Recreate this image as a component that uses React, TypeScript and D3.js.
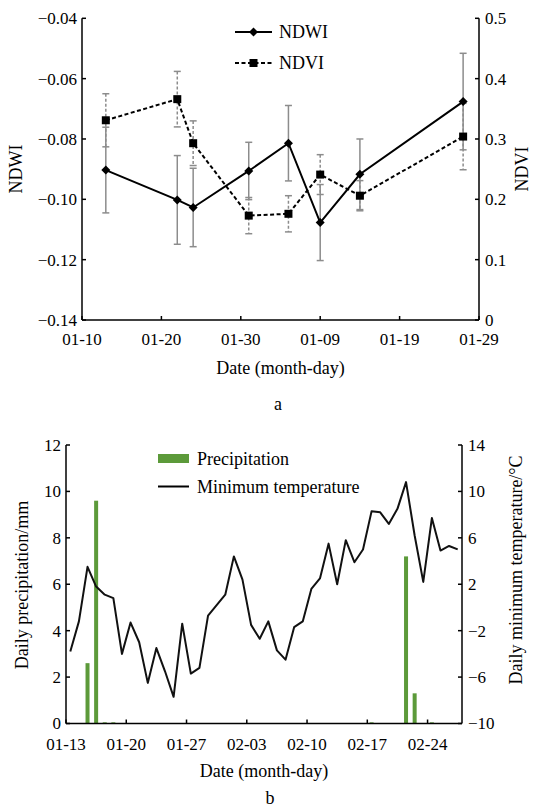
import React from "react";
import * as d3 from "d3";

// ---------- Panel a data ----------
const obsDays = [3, 12, 14, 21, 26, 30, 35, 48]; // days since 01-10
const ndwiMean = [-0.0903, -0.1002, -0.1027, -0.0906, -0.0814, -0.1077, -0.0917, -0.0676];
const ndwiSd = [0.0142, 0.0147, 0.013, 0.0095, 0.0125, 0.0126, 0.0117, 0.016];
const ndviMean = [0.331, 0.366, 0.293, 0.173, 0.176, 0.241, 0.206, 0.304];
const ndviSd = [0.044, 0.046, 0.037, 0.03, 0.03, 0.033, 0.025, 0.055];
const topXTicks = [0, 10, 20, 30, 40, 50];
const topXLabels = ["01-10", "01-20", "01-30", "01-09", "01-19", "01-29"];
const ndwiTicks = [-0.04, -0.06, -0.08, -0.1, -0.12, -0.14];
const ndwiTickLabels = ["−0.04", "−0.06", "−0.08", "−0.10", "−0.12", "−0.14"];
const ndviTicks = [0, 0.1, 0.2, 0.3, 0.4, 0.5];
const ndviTickLabels = ["0", "0.1", "0.2", "0.3", "0.4", "0.5"];

// ---------- Panel b data ----------
const precipDays = [2, 3, 4, 5, 35, 39, 40, 42]; // days since 01-13
const precipValues = [2.6, 9.6, 0.05, 0.05, 0.05, 7.2, 1.3, 0.05];
const minTemp = [
  -3.8, -1.2, 3.5, 1.8, 1.1, 0.8, -4.0, -1.3, -3.0, -6.5,
  -3.5, -5.5, -7.7, -1.4, -5.7, -5.2, -0.7, 0.2, 1.1, 4.4,
  2.4, -1.5, -2.7, -1.2, -3.7, -4.5, -1.7, -1.2, 1.6, 2.5,
  5.5, 2.0, 5.8, 3.9, 5.0, 8.3, 8.2, 7.2, 8.5, 10.8,
  6.2, 2.2, 7.7, 4.9, 5.3, 5.0,
];
const botXTicks = [0, 7, 14, 21, 28, 35, 42];
const botXLabels = ["01-13", "01-20", "01-27", "02-03", "02-10", "02-17", "02-24"];
const precipTicks = [0, 2, 4, 6, 8, 10, 12];
const tempTicks = [-10, -6, -2, 2, 6, 10, 14];
const tempTickLabels = ["−10", "−6", "−2", "2", "6", "10", "14"];

const FONT = "'Liberation Serif', 'Times New Roman', serif";
const FS = 17;
const FT = 18;
const GREEN = "#5c9a3a";
const ERR = "#8c8c8c";

export default function App() {
  // Panel a scales
  const xA = d3.scaleLinear().domain([0, 50]).range([82, 479]);
  const yW = d3.scaleLinear().domain([-0.14, -0.04]).range([320, 18.3]);
  const yV = d3.scaleLinear().domain([0, 0.5]).range([320, 18.3]);
  const ndwiLine = d3.line<number>().x((_, i) => xA(obsDays[i])).y((d) => yW(d));
  const ndviLine = d3.line<number>().x((_, i) => xA(obsDays[i])).y((d) => yV(d));

  // Panel b scales
  const xB = d3.scaleLinear().domain([0, 46]).range([66, 462]);
  const yP = d3.scaleLinear().domain([0, 12]).range([723.5, 445]);
  const yT = d3.scaleLinear().domain([-10, 14]).range([723.5, 445]);
  const tempLine = d3.line<number>().x((_, i) => xB(i + 0.5)).y((d) => yT(d));

  const diamond = (cx: number, cy: number, r: number) =>
    `M${cx},${cy - r}L${cx + r},${cy}L${cx},${cy + r}L${cx - r},${cy}Z`;

  const [aL, aR] = xA.range();
  const aB = yW(-0.14), aT = yW(-0.04);
  const [bL, bR] = xB.range();
  const bB = yP(0), bT = yP(12);
  const tick = 4;

  return (
    <svg width={534} height={809} style={{ position: "absolute", left: 0, top: 0, background: "#fff" }} fontFamily={FONT} fontSize={FS}>
      {/* ================= Panel a ================= */}
      {ndwiMean.map((m, i) => {
        const x = xA(obsDays[i]);
        const y1 = yW(m + ndwiSd[i]);
        const y2 = yW(m - ndwiSd[i]);
        return (
          <g key={"ew" + i} stroke={ERR} strokeWidth={1.5}>
            <line x1={x} x2={x} y1={y1} y2={y2} />
            <line x1={x - 3.5} x2={x + 3.5} y1={y1} y2={y1} />
            <line x1={x - 3.5} x2={x + 3.5} y1={y2} y2={y2} />
          </g>
        );
      })}
      {ndviMean.map((m, i) => {
        const x = xA(obsDays[i]);
        const y1 = yV(m + ndviSd[i]);
        const y2 = yV(m - ndviSd[i]);
        return (
          <g key={"ev" + i} stroke={ERR} strokeWidth={1.5}>
            <line x1={x} x2={x} y1={y1} y2={y2} strokeDasharray="3,2" />
            <line x1={x - 3.5} x2={x + 3.5} y1={y1} y2={y1} />
            <line x1={x - 3.5} x2={x + 3.5} y1={y2} y2={y2} />
          </g>
        );
      })}
      <path d={ndwiLine(ndwiMean) || ""} fill="none" stroke="#000" strokeWidth={2} />
      <path d={ndviLine(ndviMean) || ""} fill="none" stroke="#000" strokeWidth={2} strokeDasharray="4,2.5" />
      {ndwiMean.map((m, i) => (
        <path key={"dw" + i} d={diamond(xA(obsDays[i]), yW(m), 4.5)} fill="#000" />
      ))}
      {ndviMean.map((m, i) => (
        <rect key={"sv" + i} x={xA(obsDays[i]) - 4} y={yV(m) - 4} width={8} height={8} fill="#000" />
      ))}

      {/* axes a */}
      <g stroke="#000" strokeWidth={1.5} fill="none">
        <line x1={aL} x2={aL} y1={aT} y2={aB} />
        <line x1={aR} x2={aR} y1={aT} y2={aB} />
        <line x1={aL} x2={aR} y1={aB} y2={aB} />
        {ndwiTicks.map((t) => (
          <line key={"wt" + t} x1={aL} x2={aL + tick} y1={yW(t)} y2={yW(t)} />
        ))}
        {ndviTicks.map((t) => (
          <line key={"vt" + t} x1={aR - tick} x2={aR} y1={yV(t)} y2={yV(t)} />
        ))}
        {topXTicks.map((t) => (
          <line key={"xt" + t} x1={xA(t)} x2={xA(t)} y1={aB} y2={aB - tick} />
        ))}
      </g>
      {ndwiTicks.map((t, i) => (
        <text key={"wl" + t} x={aL - 5} y={yW(t)} dy="0.35em" textAnchor="end">{ndwiTickLabels[i]}</text>
      ))}
      {ndviTicks.map((t, i) => (
        <text key={"vl" + t} x={aR + 6} y={yV(t)} dy="0.35em" textAnchor="start">{ndviTickLabels[i]}</text>
      ))}
      {topXTicks.map((t, i) => (
        <text key={"xl" + t} x={xA(t)} y={345} textAnchor="middle">{topXLabels[i]}</text>
      ))}
      <text x={(aL + aR) / 2} y={374} textAnchor="middle" fontSize={FT}>Date (month-day)</text>
      <text transform={`translate(22,169) rotate(-90)`} textAnchor="middle" fontSize={FT}>NDWI</text>
      <text transform={`translate(528,169) rotate(-90)`} textAnchor="middle" fontSize={FT}>NDVI</text>
      <text x={278} y={410} textAnchor="middle" fontSize={FT}>a</text>

      {/* legend a */}
      <line x1={235} x2={272} y1={32} y2={32} stroke="#000" strokeWidth={2} />
      <path d={diamond(253.5, 32, 4.5)} fill="#000" />
      <text x={279} y={32} dy="0.35em" fontSize={FT}>NDWI</text>
      <line x1={235} x2={272} y1={63} y2={63} stroke="#000" strokeWidth={2} strokeDasharray="4,2.5" />
      <rect x={249.5} y={59} width={8} height={8} fill="#000" />
      <text x={279} y={63} dy="0.35em" fontSize={FT}>NDVI</text>

      {/* ================= Panel b ================= */}
      {precipValues.map((v, i) => (
        <rect key={"pb" + i} x={xB(precipDays[i] + 0.5) - 2} y={yP(v)} width={4} height={bB - yP(v)} fill={GREEN} />
      ))}
      <path d={tempLine(minTemp) || ""} fill="none" stroke="#111" strokeWidth={2} strokeLinejoin="round" />

      <g stroke="#000" strokeWidth={1.5} fill="none">
        <line x1={bL} x2={bL} y1={bT} y2={bB} />
        <line x1={bR} x2={bR} y1={bT} y2={bB} />
        <line x1={bL} x2={bR} y1={bB} y2={bB} />
        {precipTicks.map((t) => (
          <line key={"pt" + t} x1={bL} x2={bL + tick} y1={yP(t)} y2={yP(t)} />
        ))}
        {tempTicks.map((t) => (
          <line key={"tt" + t} x1={bR - tick} x2={bR} y1={yT(t)} y2={yT(t)} />
        ))}
        {botXTicks.map((t) => (
          <line key={"bx" + t} x1={xB(t)} x2={xB(t)} y1={bB} y2={bB - tick} />
        ))}
      </g>
      {precipTicks.map((t) => (
        <text key={"pl" + t} x={bL - 5} y={yP(t)} dy="0.35em" textAnchor="end">{t}</text>
      ))}
      {tempTicks.map((t, i) => (
        <text key={"tl" + t} x={bR + 6} y={yT(t)} dy="0.35em" textAnchor="start">{tempTickLabels[i]}</text>
      ))}
      {botXTicks.map((t, i) => (
        <text key={"bl" + t} x={xB(t)} y={750} textAnchor="middle">{botXLabels[i]}</text>
      ))}
      <text x={(bL + bR) / 2} y={777} textAnchor="middle" fontSize={FT}>Date (month-day)</text>
      <text transform={`translate(28,585) rotate(-90)`} textAnchor="middle" fontSize={FT}>Daily precipitation/mm</text>
      <text transform={`translate(522,570) rotate(-90)`} textAnchor="middle" fontSize={FT}>Daily minimum temperature/°C</text>
      <text x={270} y={804} textAnchor="middle" fontSize={FT}>b</text>

      {/* legend b */}
      <rect x={158} y={454} width={31} height={9} fill={GREEN} />
      <text x={197} y={459} dy="0.35em" fontSize={FT}>Precipitation</text>
      <line x1={158} x2={189} y1={486.5} y2={486.5} stroke="#000" strokeWidth={2} />
      <text x={197} y={486.5} dy="0.35em" fontSize={FT}>Minimum temperature</text>
    </svg>
  );
}
